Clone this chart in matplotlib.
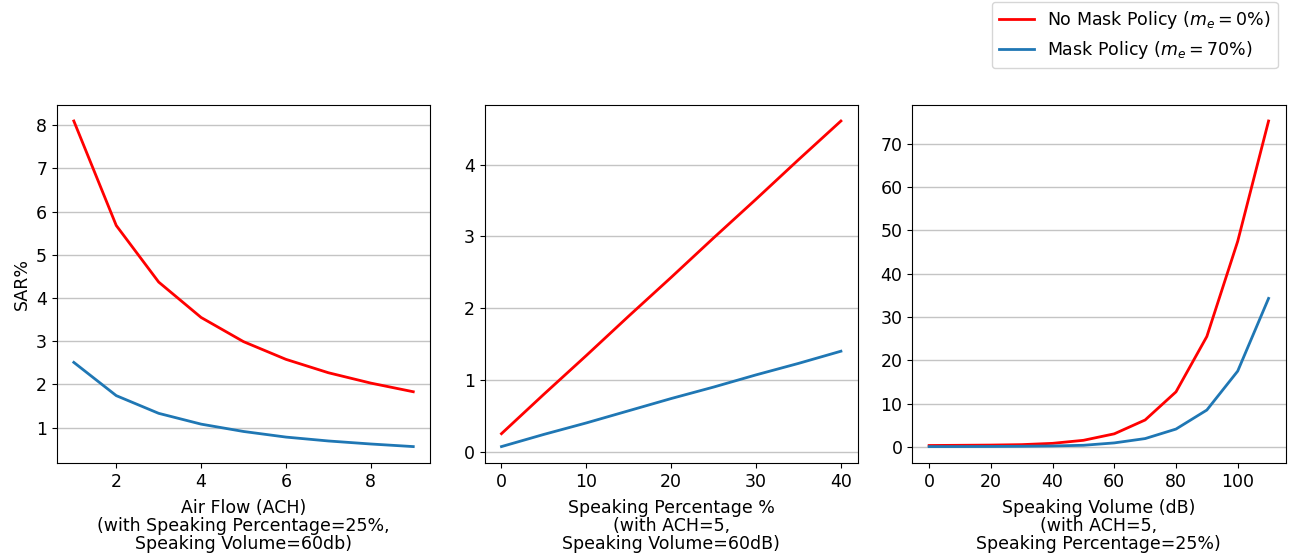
import numpy as np
import matplotlib
matplotlib.use("Agg")
import matplotlib.pyplot as plt

# 数据
ach = [1, 2, 3, 4, 5, 6, 7, 8, 9]
ach_no_mask = [8.10, 5.68, 4.37, 3.55, 2.99, 2.58, 2.27, 2.03, 1.83]
ach_mask = [2.51, 1.74, 1.33, 1.08, 0.91, 0.78, 0.69, 0.62, 0.56]

speak_pct = [0, 5, 10, 15, 20, 25, 30, 35, 40]
pct_no_mask = [0.25, 0.80, 1.34, 1.89, 2.43, 2.98, 3.52, 4.07, 4.61]
pct_mask = [0.07, 0.24, 0.40, 0.57, 0.74, 0.90, 1.07, 1.23, 1.40]

volume = [0, 10, 20, 30, 40, 50, 60, 70, 80, 90, 100, 110]
vol_no_mask = [0.30, 0.35, 0.40, 0.50, 0.80, 1.50, 3.00, 6.20, 12.7, 25.5, 47.5, 75.3]
vol_mask = [0.05, 0.06, 0.08, 0.12, 0.20, 0.35, 0.90, 1.90, 4.10, 8.50, 17.5, 34.3]

xlabels = [
    "Air Flow (ACH)\n(with Speaking Percentage=25%,\nSpeaking Volume=60db)",
    "Speaking Percentage %\n(with ACH=5,\nSpeaking Volume=60dB)",
    "Speaking Volume (dB)\n(with ACH=5,\nSpeaking Percentage=25%)",
]

plt.rcParams["font.size"] = 12.5

fig = plt.figure(figsize=(12.92, 5.57), dpi=100)
lefts = [0.044, 0.375, 0.706]
axes = [fig.add_axes([l, 0.169, 0.289, 0.643]) for l in lefts]

data = [
    (ach, ach_no_mask, ach_mask),
    (speak_pct, pct_no_mask, pct_mask),
    (volume, vol_no_mask, vol_mask),
]

for ax, (x, y_red, y_blue), xl in zip(axes, data, xlabels):
    l1, = ax.plot(x, y_red, color="red", lw=2, label=r"No Mask Policy ($m_e = 0\%$)")
    l2, = ax.plot(x, y_blue, color="#1f77b4", lw=2, label=r"Mask Policy ($m_e = 70\%$)")
    ax.grid(axis="y", color="#c4c4c4", lw=1)
    ax.set_axisbelow(True)
    ax.set_xlabel(xl, linespacing=1.0, labelpad=6)

axes[0].set_ylabel("SAR%")
axes[1].set_xticks([0, 10, 20, 30, 40])
axes[2].set_xticks([0, 20, 40, 60, 80, 100])

fig.legend(handles=[l1, l2], loc="upper right", bbox_to_anchor=(0.989, 0.997),
           borderaxespad=0, fontsize=12.5)

plt.savefig("out.png", dpi=100)
plt.close()
